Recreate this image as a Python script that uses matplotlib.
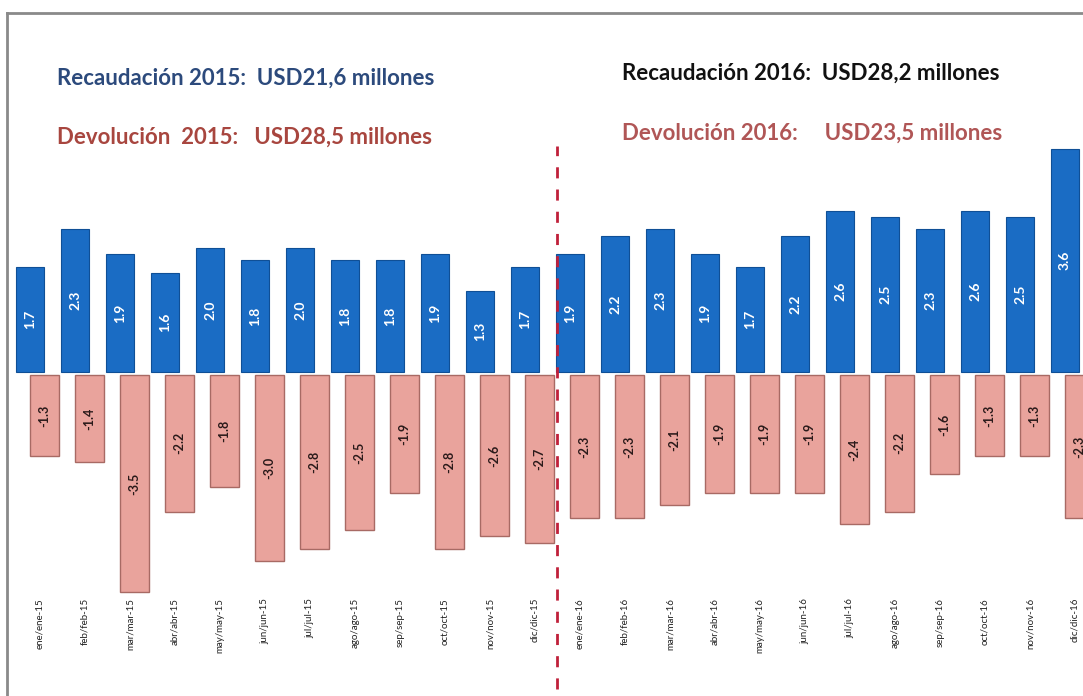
import numpy as np
import matplotlib.pyplot as plt
from matplotlib.lines import Line2D

plt.rcParams['font.family'] = ['Lato', 'DejaVu Sans']

meses = ['ene/ene-15', 'feb/feb-15', 'mar/mar-15', 'abr/abr-15', 'may/may-15', 'jun/jun-15',
         'jul/jul-15', 'ago/ago-15', 'sep/sep-15', 'oct/oct-15', 'nov/nov-15', 'dic/dic-15',
         'ene/ene-16', 'feb/feb-16', 'mar/mar-16', 'abr/abr-16', 'may/may-16', 'jun/jun-16',
         'jul/jul-16', 'ago/ago-16', 'sep/sep-16', 'oct/oct-16', 'nov/nov-16', 'dic/dic-16']
recaudacion = [1.7, 2.3, 1.9, 1.6, 2.0, 1.8, 2.0, 1.8, 1.8, 1.9, 1.3, 1.7,
               1.9, 2.2, 2.3, 1.9, 1.7, 2.2, 2.6, 2.5, 2.3, 2.6, 2.5, 3.6]
devolucion = [-1.3, -1.4, -3.5, -2.2, -1.8, -3.0, -2.8, -2.5, -1.9, -2.8, -2.6, -2.7,
              -2.3, -2.3, -2.1, -1.9, -1.9, -1.9, -2.4, -2.2, -1.6, -1.3, -1.3, -2.3]

fig = plt.figure(figsize=(10.83, 6.96), dpi=100)
ax = fig.add_axes([0, 0, 1, 1])
ax.axis('off')
ax.set_xlim(-30 / 45, 1053 / 45)
ax.set_ylim(-(696 - 372) / 62, 372 / 62)

x = np.arange(len(meses))
ax.bar(x, recaudacion, width=0.64, color='#1a6cc4', edgecolor='#0f4f96', linewidth=0.8, zorder=2)
ax.bar(x + 0.32, devolucion, width=0.64, bottom=-0.05, color='#e9a39c',
       edgecolor='#a86a64', linewidth=1.0, zorder=1)

for i, v in enumerate(recaudacion):
    ax.text(x[i], v / 2, '%.1f' % v, rotation=90, ha='center', va='center',
            color='white', fontsize=10, fontweight='bold', zorder=3)
for i, v in enumerate(devolucion):
    ax.text(x[i] + 0.32, v / 2 - 0.05, '%.1f' % v, rotation=90, ha='center', va='center',
            color='#2a1a1a', fontsize=9, fontweight='bold', zorder=3)

for i, m in enumerate(meses):
    ax.text(x[i] + 0.22, -(598 - 372) / 62, m, rotation=90, ha='center', va='top',
            fontsize=7, color='#222222')

# linea divisoria 2015 / 2016
ax.axvline(11.71, ymin=0.01, ymax=0.79, color='#c0203a', linestyle=(0, (4, 4)), linewidth=2)

fig.text(57 / 1083, 1 - 78 / 696, 'Recaudación 2015:  USD21,6 millones', fontsize=16,
         fontweight='bold', color='#2c4a7c', va='center')
fig.text(57 / 1083, 1 - 137 / 696, 'Devolución  2015:   USD28,5 millones', fontsize=16,
         fontweight='bold', color='#a8463f', va='center')
fig.text(622 / 1083, 1 - 73 / 696, 'Recaudación 2016:  USD28,2 millones', fontsize=16,
         fontweight='bold', color='#111111', va='center')
fig.text(622 / 1083, 1 - 133 / 696, 'Devolución 2016:     USD23,5 millones', fontsize=16,
         fontweight='bold', color='#b05656', va='center')

# marco
fig.add_artist(Line2D([7 / 1083, 7 / 1083], [0, 1 - 13 / 696], transform=fig.transFigure,
                      color='#8a8a8a', linewidth=2))
fig.add_artist(Line2D([7 / 1083, 1], [1 - 13 / 696, 1 - 13 / 696], transform=fig.transFigure,
                      color='#8a8a8a', linewidth=2))

fig.savefig('out.png', dpi=100)
